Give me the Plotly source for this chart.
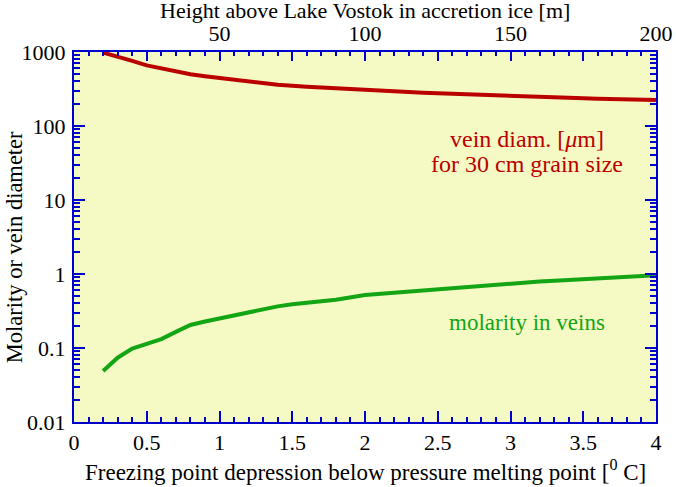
import plotly.graph_objects as go

# Freezing point depression [deg C]
depression_diam = [0.2, 0.3, 0.4, 0.5, 0.6, 0.7, 0.8, 0.9, 1.0, 1.2, 1.4, 1.6, 1.8,
                   2.0, 2.2, 2.4, 2.6, 2.8, 3.0, 3.2, 3.4, 3.6, 3.8, 4.0]
vein_diameter = [980, 870, 760, 660, 600, 550, 500, 470, 445, 395, 360, 340, 322,
                 305, 293, 282, 272, 262, 254, 246, 240, 234, 229, 224]

depression_mol = [0.2, 0.3, 0.4, 0.5, 0.6, 0.7, 0.8, 0.9, 1.0, 1.1, 1.2, 1.3, 1.4,
                  1.5, 1.6, 1.8, 2.0, 2.2, 2.4, 2.6, 2.8, 3.0, 3.2, 3.4, 3.6, 3.8, 4.0]
molarity = [0.049, 0.074, 0.098, 0.113, 0.132, 0.165, 0.205, 0.228, 0.25, 0.275,
            0.305, 0.335, 0.365, 0.39, 0.41, 0.45, 0.52, 0.56, 0.6, 0.64, 0.69,
            0.74, 0.79, 0.83, 0.87, 0.91, 0.96]

bottom_ticks = [0, 0.5, 1, 1.5, 2, 2.5, 3, 3.5, 4]
bottom_labels = ["0", "0.5", "1", "1.5", "2", "2.5", "3", "3.5", "4"]
top_ticks = [0, 25, 50, 75, 100, 125, 150, 175, 200]
top_labels = ["", "", "50", "", "100", "", "150", "", "200"]
y_ticks = [0.01, 0.1, 1, 10, 100, 1000]
y_labels = ["0.01", "0.1", "1", "10", "100", "1000"]

RED = "#bb0000"
GREEN = "#13a513"
BLUE = "#0000cc"
FONT = "Liberation Serif"

fig = go.Figure()
fig.add_trace(go.Scatter(x=depression_diam, y=vein_diameter, mode="lines",
                         line=dict(color=RED, width=4), showlegend=False))
fig.add_trace(go.Scatter(x=depression_mol, y=molarity, mode="lines",
                         line=dict(color=GREEN, width=4), showlegend=False))
# invisible trace so the top (height) axis is drawn
fig.add_trace(go.Scatter(x=top_ticks, y=[None] * len(top_ticks), xaxis="x2",
                         mode="lines", showlegend=False, hoverinfo="skip"))

tick_common = dict(ticks="inside", tickwidth=1.5, tickcolor=BLUE,
                   showline=True, linecolor=BLUE, linewidth=2,
                   showgrid=False, zeroline=False, automargin=False,
                   tickfont=dict(size=22, family=FONT, color="black"))

fig.update_layout(
    width=676, height=487,
    margin=dict(l=74, r=20, t=52, b=65),
    paper_bgcolor="white",
    plot_bgcolor="#f5f9c3",
    font=dict(family=FONT, size=22, color="black"),
    xaxis=dict(
        range=[0, 4], tickvals=bottom_ticks, ticktext=bottom_labels, ticklen=11,
        minor=dict(dtick=0.1, ticks="inside", ticklen=5, tickwidth=1.5, tickcolor=BLUE),
        **tick_common,
    ),
    xaxis2=dict(
        range=[0, 200], overlaying="x", side="top", anchor="y",
        tickvals=top_ticks, ticktext=top_labels, ticklen=9,
        minor=dict(dtick=5, ticks="inside", ticklen=4, tickwidth=1.5, tickcolor=BLUE),
        **tick_common,
    ),
    yaxis=dict(
        type="log", range=[-2, 3], tickvals=y_ticks, ticktext=y_labels, ticklen=11,
        minor=dict(ticks="inside", ticklen=6, tickwidth=1.5, tickcolor=BLUE, dtick="D1"),
        mirror="ticks", ticklabelstandoff=2,
        **tick_common,
    ),
)

# axis titles
fig.add_annotation(x=0.5, y=-0.132, xref="paper", yref="paper", yanchor="middle",
                   xanchor="center", showarrow=False,
                   text="Freezing point depression below pressure melting point [<sup>0</sup> C]",
                   font=dict(size=23, family=FONT, color="black"))
fig.add_annotation(x=0.5, y=1.1135, xref="paper", yref="paper", yanchor="middle",
                   xanchor="center", showarrow=False,
                   text="Height above Lake Vostok in accretion ice [m]",
                   font=dict(size=22, family=FONT, color="black"))
fig.add_annotation(x=-0.101, y=0.473, xref="paper", yref="paper", xanchor="center",
                   yanchor="middle", showarrow=False, textangle=-90,
                   text="Molarity or vein diameter",
                   font=dict(size=22.5, family=FONT, color="black"))

# curve labels
fig.add_annotation(x=3.11, y=1.83, xref="x", yref="y", showarrow=False,
                   text="vein diam. [<i>μ</i>m]",
                   font=dict(color=RED, size=24, family=FONT))
fig.add_annotation(x=3.11, y=1.49, xref="x", yref="y", showarrow=False,
                   text="for 30 cm grain size",
                   font=dict(color=RED, size=24, family=FONT))
fig.add_annotation(x=3.11, y=-0.66, xref="x", yref="y", showarrow=False,
                   text="molarity in veins",
                   font=dict(color=GREEN, size=23, family=FONT))

fig.write_html("out.html", config={"displayModeBar": False},
               post_script="document.body.style.margin='0';")
